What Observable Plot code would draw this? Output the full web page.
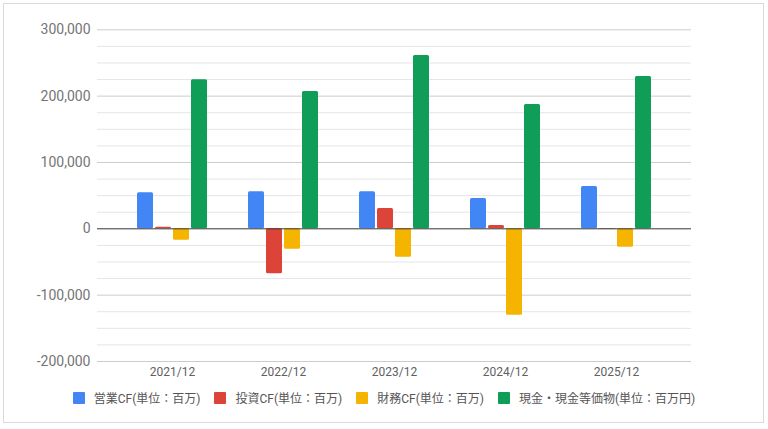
<!DOCTYPE html>
<html><head><meta charset="utf-8">
<script src="https://cdn.jsdelivr.net/npm/d3@7"></script>
<script src="https://cdn.jsdelivr.net/npm/@observablehq/plot@0.6"></script>
<style>
html,body{margin:0;padding:0;background:#fff;}
body{width:768px;height:429px;position:relative;overflow:hidden;font-family:Roboto,"Noto Sans CJK JP",sans-serif;}
#frame{position:absolute;left:3px;top:3px;width:761px;height:420px;border:1px solid #d9d9d9;box-sizing:border-box;}
#chart{position:absolute;left:0;top:0;}
#legend{position:absolute;left:0;top:389px;width:768px;display:flex;justify-content:center;gap:14px;font-size:12px;color:#555;}
.item{display:flex;align-items:center;}
.sw{width:12px;height:12px;margin-right:9px;border-radius:1px;}
</style></head>
<body>
<div id="frame"></div>
<div id="chart"></div>
<div id="legend"></div>
<script>
const dates = ["2021/12","2022/12","2023/12","2024/12","2025/12"];
const seriesNames = ["営業CF(単位：百万)","投資CF(単位：百万)","財務CF(単位：百万)","現金・現金等価物(単位：百万円)"];
const colors = ["#4285F4","#DB4437","#F4B400","#0F9D58"];
const operatingCF = [54300, 55800, 55800, 45700, 63800];
const investingCF = [2400, -67800, 30600, 5000, -800];
const financingCF = [-17200, -30700, -42800, -130200, -27700];
const cashEquiv = [224600, 207000, 261200, 187400, 229600];
const majorTicks = [-200000, -100000, 0, 100000, 200000, 300000];
const minorTicks = d3.range(-200000, 300001, 25000).filter(v => v % 100000 !== 0);

const seriesValues = [operatingCF, investingCF, financingCF, cashEquiv];
const step = 18, bw = 16, groupW = 70;
const barMarks = seriesValues.map((vals, i) => {
  const data = dates.map((d, j) => ({date: d, value: vals[j]}));
  return Plot.barY(data, {
    x: "date", y: "value", fill: colors[i],
    insetLeft: i * step, insetRight: groupW - i * step - bw, rx: 1.5
  });
});

const chart = Plot.plot({
  width: 768, height: 385,
  marginLeft: 97, marginRight: 77, marginTop: 29.3, marginBottom: 24,
  style: {fontFamily: "Roboto, sans-serif", background: "transparent"},
  x: {domain: dates, paddingInner: 0.369, paddingOuter: 0.36, label: null, tickSize: 0, tickPadding: 6},
  y: {domain: [-200000, 300000], ticks: majorTicks, label: null, tickSize: 0, tickPadding: 7,
      tickFormat: d => d3.format(",")(d).replace("−", "-")},
  marks: [
    Plot.ruleY(minorTicks, {stroke: "#e5e5e5", strokeWidth: 1}),
    Plot.ruleY(majorTicks.filter(v => v !== 0), {stroke: "#cccccc", strokeWidth: 1}),
    ...barMarks,
    Plot.ruleY([0], {stroke: "#333333", strokeWidth: 1}),
    Plot.axisY({ticks: majorTicks, tickSize: 0, tickPadding: 7, fontSize: 14, fill: "#757575",
      tickFormat: d => d3.format(",")(d).replace("−", "-")}),
    Plot.axisX({tickSize: 0, tickPadding: 6, fontSize: 12, fill: "#5f5f5f"})
  ]
});
document.getElementById("chart").appendChild(chart);

const legend = document.getElementById("legend");
seriesNames.forEach((n, i) => {
  const it = document.createElement("div"); it.className = "item";
  const sw = document.createElement("div"); sw.className = "sw"; sw.style.background = colors[i];
  const tx = document.createElement("span"); tx.textContent = n;
  it.appendChild(sw); it.appendChild(tx); legend.appendChild(it);
});
</script>
</body></html>
